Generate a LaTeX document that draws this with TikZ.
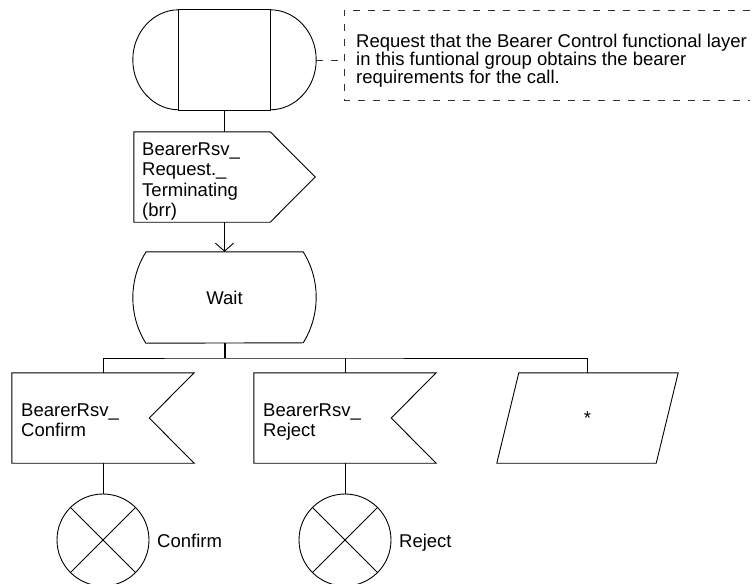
\documentclass[tikz,border=0pt]{standalone}
\usepackage{fontspec}
\setmainfont{Liberation Sans}
\usetikzlibrary{arrows.meta}
\begin{document}
\begin{tikzpicture}[x=1pt,y=-1pt,
  ln/.style={line width=0.9pt, draw=black},
  dsh/.style={line width=0.9pt, draw=black!80, dash pattern=on 7pt off 8pt},
  box/.style={inner sep=0pt, draw=none},
  txt/.style={font=\fontsize{18.5}{20.3}\selectfont, inner sep=0pt, align=left, anchor=north west},
  ctxt/.style={font=\fontsize{18.5}{18}\selectfont, inner sep=0pt, align=left, anchor=north west},
  lbl/.style={font=\fontsize{18.5}{20}\selectfont, inner sep=0pt, anchor=base west}]
\useasboundingbox (0,0) rectangle (754,583);

% start symbol
\node[box, minimum width=183pt, minimum height=100pt] (start) at (224.5,60) {};
\draw[ln] ([xshift=46pt]start.north west) rectangle ([xshift=-46pt]start.south east);
\draw[ln] ([xshift=46pt]start.north west) arc[start angle=270, end angle=90, x radius=46, y radius=50];
\draw[ln] ([xshift=-46pt]start.north east) arc[start angle=-90, end angle=90, x radius=46, y radius=50];

% comment
\coordinate (brk) at (344,60);
\coordinate (btl) at (750,10);
\coordinate (bbl) at (750,100);
\draw[dsh] (start.east) -- (brk);
\draw[dsh] (btl) -- (344,10) -- (344,100) -- (bbl);
\node[ctxt] (note) at (356,33.5) {Request that the Bearer Control functional layer\\in this funtional group obtains the bearer\\requirements for the call.};

% output signal
\node[box, minimum width=181pt, minimum height=90pt] (req) at (224.5,177) {};
\draw[ln] (req.north west) -- ([xshift=-45pt]req.north east) -- (req.east) -- ([xshift=-45pt]req.south east) -- (req.south west) -- cycle;
\node[txt] (reqt) at (142,142.7) {BearerRsv\_\\Request.\_\\Terminating\\(brr)};
\draw[ln] (start.south) -- (req.north);

% wait state
\node[box, minimum width=183pt, minimum height=91pt, font=\fontsize{18.5}{20}\selectfont] (wait) at (224.5,297.5) {Wait};
\draw[ln] ([xshift=13pt]wait.north west) -- ([xshift=-13pt]wait.north east)
  arc[start angle=-31.9, end angle=31.9, radius=86.1]
  -- ([xshift=13pt]wait.south west)
  arc[start angle=148.1, end angle=211.9, radius=86.1] -- cycle;
\draw[ln, -{Straight Barb[length=8pt, width=18pt]}] (req.south) -- (wait.north);

% inputs
\node[box, minimum width=182pt, minimum height=90pt] (in1) at (103,418) {};
\node[box, minimum width=182pt, minimum height=90pt] (in2) at (345,418) {};
\node[box, minimum width=181pt, minimum height=90pt, font=\fontsize{18.5}{20}\selectfont] (any) at (587.5,418) {*};
\draw[ln] (in1.north west) -- (in1.north east) -- ([xshift=-45pt]in1.east) -- (in1.south east) -- (in1.south west) -- cycle;
\draw[ln] (in2.north west) -- (in2.north east) -- ([xshift=-45pt]in2.east) -- (in2.south east) -- (in2.south west) -- cycle;
\draw[ln] ([xshift=22pt]any.north west) -- (any.north east) -- ([xshift=-22pt]any.south east) -- (any.south west) -- cycle;
\node[txt] (in1t) at (21,403.2) {BearerRsv\_\\Confirm};
\node[txt] (in2t) at (263,403.2) {BearerRsv\_\\Reject};

% bus
\coordinate (bus) at (224.5,358);
\draw[line width=2pt] (wait.south) -- (bus);
\draw[ln] (in1.north) |- (bus) -| (any.north);
\draw[ln] (in2.north) -- (in2.north |- bus);

% joins
\node[circle, ln, minimum size=92pt, inner sep=0pt] (c1) at (103,540) {};
\node[circle, ln, minimum size=92pt, inner sep=0pt] (c2) at (345,540) {};
\draw[ln] (c1.north west) -- (c1.south east);
\draw[ln] (c1.north east) -- (c1.south west);
\draw[ln] (c2.north west) -- (c2.south east);
\draw[ln] (c2.north east) -- (c2.south west);
\draw[ln] (in1.south) -- (c1.north);
\draw[ln] (in2.south) -- (c2.north);
\node[lbl] (l1) at (157,547) {Confirm};
\node[lbl] (l2) at (399,547) {Reject};
\end{tikzpicture}
\end{document}
